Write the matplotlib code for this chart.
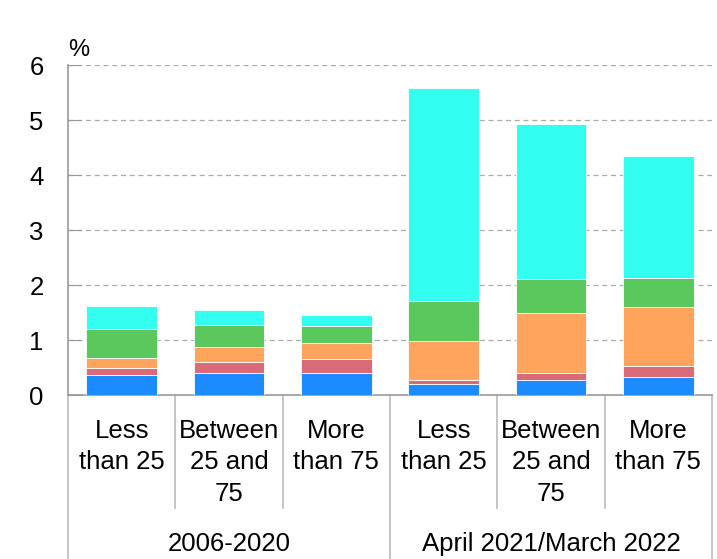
import matplotlib
matplotlib.use('Agg')
import matplotlib.pyplot as plt
import matplotlib.transforms as mtransforms
import numpy as np

plt.rcParams['font.family'] = ['Liberation Sans', 'DejaVu Sans']

# --- данные ---
categories = ['Less\nthan 25', 'Between\n25 and\n75', 'More\nthan 75',
              'Less\nthan 25', 'Between\n25 and\n75', 'More\nthan 75']
groups = ['2006-2020', 'April 2021/March 2022']
s_blue = [0.375, 0.405, 0.405, 0.21, 0.27, 0.33]
s_red = [0.125, 0.205, 0.26, 0.075, 0.14, 0.205]
s_orange = [0.18, 0.275, 0.285, 0.70, 1.085, 1.065]
s_green = [0.525, 0.395, 0.305, 0.725, 0.625, 0.54]
s_cyan = [0.425, 0.27, 0.20, 3.88, 2.81, 2.21]
yticks = [0, 1, 2, 3, 4, 5, 6]

series = [s_blue, s_red, s_orange, s_green, s_cyan]
colors = ['#1b8bff', '#d96b78', '#ffa45c', '#5ac85c', '#33fff0']

fig = plt.figure(figsize=(7.17, 5.59), dpi=100)
ax = fig.add_axes([0.0948, 0.2928, 0.8982, 0.5904])

x = np.arange(len(categories))
bottom = np.zeros(len(categories))
for vals, c in zip(series, colors):
    ax.bar(x, vals, width=0.66, bottom=bottom, color=c, edgecolor='white', linewidth=0.6, zorder=3)
    bottom += np.array(vals)

ax.set_xlim(-0.5, 5.5)
ax.set_ylim(0, 6)
ax.set_yticks(yticks)
ax.set_xticks([])
ax.tick_params(axis='y', direction='in', length=9, color='#999999', labelsize=18.5, pad=17.5)
ax.grid(axis='y', color='#aaaaaa', linestyle=(0, (4, 3)), linewidth=0.9, zorder=0)
for s in ['top', 'right']:
    ax.spines[s].set_visible(False)
ax.spines['left'].set_color('#999999')
ax.spines['bottom'].set_color('#999999')
ax.spines['left'].set_linewidth(1.2)
ax.spines['bottom'].set_linewidth(1.2)

ax.text(0.0, 1.014, '%', transform=ax.transAxes, ha='left', va='bottom', fontsize=17)

# подписи категорий и разделители
trans = mtransforms.blended_transform_factory(ax.transData, ax.transAxes)
for xi, lab in zip(x, categories):
    ax.text(xi, -0.071, lab, transform=trans, ha='center', va='top', fontsize=18.5, linespacing=1.39)
for xs in [0.5, 1.5, 3.5, 4.5]:
    ax.plot([xs, xs], [0, -0.342], transform=trans, color='#bbbbbb', lw=1.2, clip_on=False)
for xs in [-0.5, 2.5, 5.5]:
    ax.plot([xs, xs], [0, -0.51], transform=trans, color='#bbbbbb', lw=1.2, clip_on=False)
for gx, g in zip([1, 4], groups):
    ax.text(gx, -0.452, g, transform=trans, ha='center', va='center', fontsize=18.5)

fig.savefig('out.png', dpi=100)
